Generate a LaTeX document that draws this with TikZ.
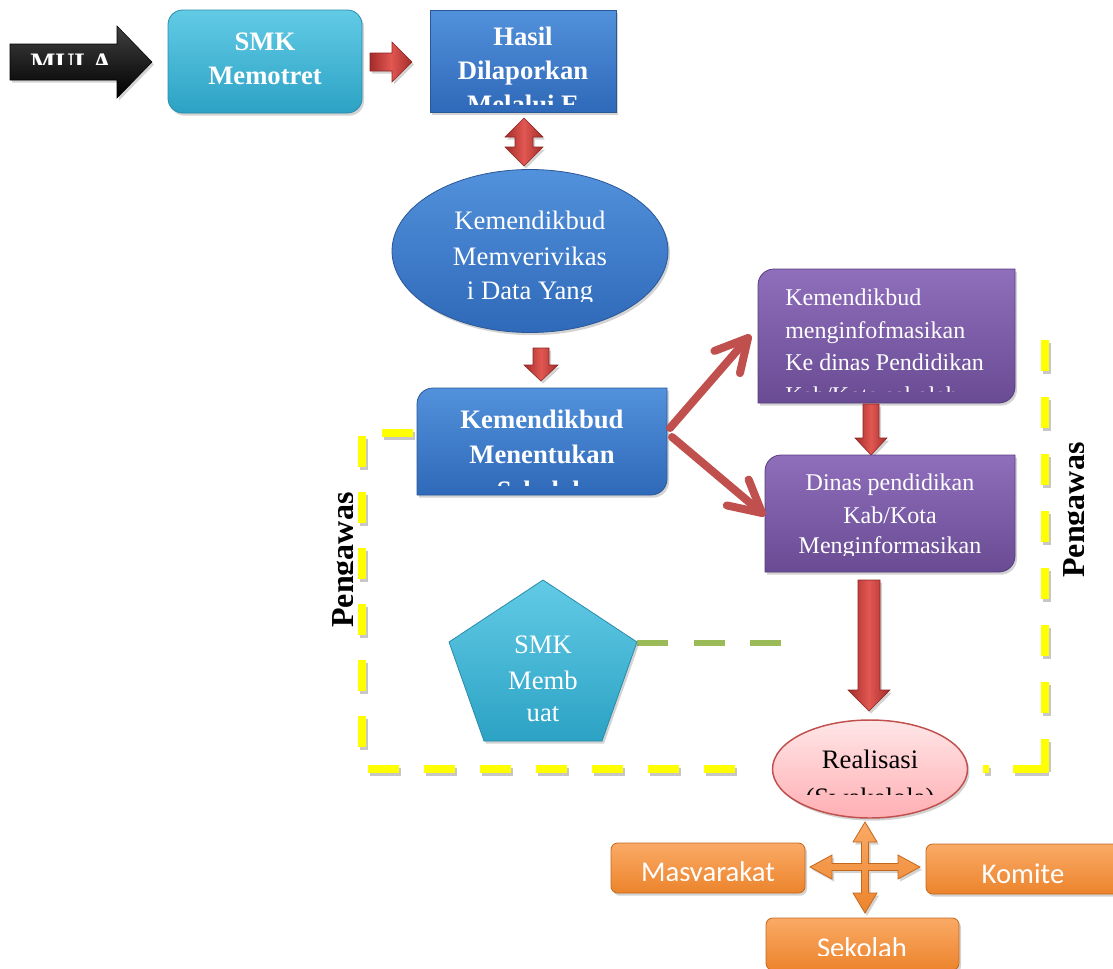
\documentclass[tikz,border=0pt]{standalone}
\usepackage{fontspec}
\setmainfont{Liberation Serif}
\newfontfamily\calib{Carlito}
\usetikzlibrary{calc,shadows,shapes.geometric}
\definecolor{cyanT}{HTML}{62CBE6}
\definecolor{cyanB}{HTML}{2CA2C4}
\definecolor{cyanD}{HTML}{2A8CAA}
\definecolor{blueT}{HTML}{5291DB}
\definecolor{blueB}{HTML}{2F69B9}
\definecolor{blueD}{HTML}{2A5796}
\definecolor{purpT}{HTML}{8F6EBB}
\definecolor{purpB}{HTML}{694B93}
\definecolor{purpD}{HTML}{573D7E}
\definecolor{redL}{HTML}{A32D2A}
\definecolor{redM}{HTML}{E25752}
\definecolor{redD}{HTML}{8B2522}
\definecolor{redC}{HTML}{C0504D}
\definecolor{orT}{HTML}{FAAA66}
\definecolor{orB}{HTML}{EC842C}
\definecolor{orD}{HTML}{C4681E}
\definecolor{pinkT}{HTML}{FFE6E7}
\definecolor{pinkB}{HTML}{FFAFB4}
\definecolor{yelC}{HTML}{FFFF00}
\definecolor{grnC}{HTML}{9BBB59}
\newcommand\dgbox[6]{\path[#1] (#2,{#3+#6}) .. controls (#2,{#3+0.448*#6}) and ({#2+0.448*#6},#3) .. ({#2+#6},#3) -- (#4,#3) -- (#4,{#5-#6}) .. controls (#4,{#5-0.448*#6}) and ({#4-0.448*#6},#5) .. ({#4-#6},#5) -- (#2,#5) -- cycle;}
\tikzset{
  sh/.style={drop shadow={opacity=0.35,shadow xshift=1.5pt,shadow yshift=-2pt}},
  cyanfill/.style={top color=cyanT,bottom color=cyanB,draw=cyanD,line width=0.6pt},
  bluefill/.style={top color=blueT,bottom color=blueB,draw=blueD,line width=0.6pt},
  purpfill/.style={top color=purpT,bottom color=purpB,draw=purpD,line width=0.6pt},
  redfill/.style={left color=redL,right color=redL,middle color=redM,draw=redD,line width=0.4pt},
  orfill/.style={top color=orT,bottom color=orB,draw=orD,line width=0.6pt},
  holder/.style={inner sep=0pt,outer sep=0pt},
  wt/.style={text=white,anchor=base,inner sep=0pt,font=\fontsize{20}{24}\selectfont},
  wtb/.style={wt,font=\bfseries\fontsize{20}{24}\selectfont},
  wts/.style={wt,font=\fontsize{18}{22}\selectfont},
  wtc/.style={wt,font=\calib\fontsize{21.5}{24}\selectfont},
  bkt/.style={wt,text=black},
  peng/.style={text=black,anchor=base,inner sep=0pt,rotate=90,font=\bfseries\fontsize{24}{26}\selectfont},
  ydash/.style={draw=yelC,line width=6pt},
  yshad/.style={draw=black,opacity=0.22,line width=6pt},
  gdash/.style={draw=grnC,line width=4.5pt},
  redln/.style={draw=redC,line width=6pt,line cap=round,line join=round},
}
\begin{document}
\begin{tikzpicture}[x=0.75pt,y=-0.75pt]
\useasboundingbox (0,0) rectangle (1113,968);
\begin{scope}
\clip (0,0) rectangle (1113,968);

% ---- yellow dashed border (Pengawas) ----
\foreach \y in {436,492,548,604,660,716} {\draw[yshad] (364,\y+3) -- (364,\y+34); \draw[ydash] (362,\y) -- (362,\y+31);}
\draw[yshad] (384,436) -- (415,436); \draw[ydash] (382,433) -- (413,433);
\foreach \x in {368,424,480,536,592,648,704} {\draw[yshad] (\x+2,772) -- (\x+33,772); \draw[ydash] (\x,769) -- (\x+31,769);}
\draw[yshad] (985,772) -- (991,772); \draw[ydash] (983,769) -- (989,769);
\draw[yshad] (1015,772) -- (1049,772); \draw[ydash] (1013,769) -- (1048,769);
\foreach \y in {340,397,454,511,568,625,682} {\draw[yshad] (1047,\y+3) -- (1047,\y+34); \draw[ydash] (1045,\y) -- (1045,\y+31);}
\draw[yshad] (1047,742) -- (1047,772); \draw[ydash] (1045,739) -- (1045,772);

% ---- green dashed line ----
\foreach \x in {637,694,750} {\draw[gdash] (\x,643) -- (\x+31,643);}

% ---- MULA arrow ----
\path[top color=black!75,bottom color=black,draw=black,sh] (10,44) -- (117,44) -- (117,26) -- (152,62) -- (117,98) -- (117,80) -- (10,80) -- cycle;
\begin{scope}\clip (10,40) rectangle (120,64);
\node[wtb] (mula) at (71,71) {MULA};
\end{scope}

% ---- SMK Memotret ----
\node[holder,cyanfill,sh,rounded corners=11pt,minimum width=194*0.75pt,minimum height=103*0.75pt] (smk) at (265,61.5) {};
\node[wtb] (smk1) at (265,50) {SMK};
\node[wtb] (smk2) at (265,84) {Memotret};

% ---- Hasil Dilaporkan ----
\node[holder,bluefill,sh,minimum width=186*0.75pt,minimum height=102*0.75pt] (hasil) at (523,61) {};
\node[wtb] (hasil1) at (523,45) {Hasil};
\node[wtb] (hasil2) at (523,79) {Dilaporkan};
\begin{scope}\clip (430,0) rectangle (616,104);
\node[wtb] (hasil3) at (523,113) {Melalui E};
\end{scope}

% arrow smk -> hasil
\path[redfill,sh] (370,53) -- (392,53) -- (392,42) -- (412,62) -- (392,82) -- (392,71) -- (370,71) -- cycle;
% double arrow hasil <-> verif
\path[redfill,sh] (524,118) -- (543,137) -- (533,137) -- (533,147) -- (543,147) -- (524,166) -- (505,147) -- (515,147) -- (515,137) -- (505,137) -- cycle;

% ---- Ellipse verifikasi ----
\node[holder,ellipse,bluefill,sh,minimum width=276*0.75pt,minimum height=163*0.75pt] (verif) at (530,251) {};
\node[wt] (verif1) at (530,229) {Kemendikbud};
\node[wt] (verif2) at (530,265) {Memverivikas};
\begin{scope}\clip (392,170) rectangle (668,301);
\node[wt] (verif3) at (530,299) {i Data Yang};
\end{scope}

% arrow verif -> menentukan
\path[redfill,sh] (533,348) -- (549,348) -- (549,365) -- (558,365) -- (541,381) -- (524,365) -- (533,365) -- cycle;

% ---- Kemendikbud Menentukan ----
\dgbox{bluefill,sh}{417}{388}{667}{495}{16}
\node[holder,minimum width=250*0.75pt,minimum height=107*0.75pt] (menent) at (542,441.5) {};
\node[wtb] (men1) at (542,428) {Kemendikbud};
\node[wtb] (men2) at (542,463) {Menentukan};
\begin{scope}\clip (417,388) rectangle (667,485);
\node[wtb] (men3) at (542,499) {Sekolah};
\end{scope}

% ---- purple box 1 ----
\dgbox{purpfill,sh}{758}{269}{1015}{403}{16}
\node[holder,minimum width=257*0.75pt,minimum height=134*0.75pt] (info) at (886.5,336) {};
\node[wts,anchor=base west] (info1) at (785,305) {Kemendikbud};
\node[wts,anchor=base west] (info2) at (785,338) {menginfofmasikan};
\node[wts,anchor=base west] (info3) at (785,370) {Ke dinas Pendidikan};
\begin{scope}\clip (758,269) rectangle (1015,391);
\node[wts,anchor=base west] (info4) at (785,403) {Kab/Kota sekolah};
\end{scope}

% arrow info -> dinas
\path[redfill,sh] (863,404) -- (879,404) -- (879,438) -- (887,438) -- (871,455) -- (855,438) -- (863,438) -- cycle;

% ---- purple box 2 ----
\dgbox{purpfill,sh}{765}{455}{1015}{572}{16}
\node[holder,minimum width=250*0.75pt,minimum height=117*0.75pt] (dinas) at (890,513.5) {};
\node[wts] (din1) at (890,490) {Dinas pendidikan};
\node[wts] (din2) at (890,523) {Kab/Kota};
\begin{scope}\clip (765,455) rectangle (1015,555);
\node[wts] (din3) at (890,553) {Menginformasikan};
\end{scope}

% red diagonal connectors
\coordinate (s1) at (670,428);
\coordinate (t1) at (748,338);
\coordinate (s2) at (672,437);
\coordinate (t2) at (762,513);
\draw[redln] (s1) -- (t1);
\draw[redln] ($(t1)!27pt!28:(s1)$) -- (t1) -- ($(t1)!27pt!-28:(s1)$);
\draw[redln] (s2) -- (t2);
\draw[redln] ($(t2)!27pt!28:(s2)$) -- (t2) -- ($(t2)!27pt!-28:(s2)$);

% big arrow dinas -> realisasi
\path[redfill,sh] (858,580) -- (880,580) -- (880,690) -- (890,690) -- (869,711) -- (848,690) -- (858,690) -- cycle;

% ---- pentagon ----
\path[cyanfill,sh] (543,580) -- (637,642) -- (602,741) -- (484,741) -- (449,642) -- cycle;
\coordinate (pent) at (543,665);
\node[wt] (pent1) at (543,653) {SMK};
\node[wt] (pent2) at (543,689) {Memb};
\node[wt] (pent3) at (543,721) {uat};

% ---- Pengawas labels ----
\begin{scope}\clip (300,470) rectangle (352,650);
\node[peng] (peng1) at (353,560) {Pengawas};
\end{scope}
\begin{scope}\clip (1055,420) rectangle (1083,600);
\node[peng] (peng2) at (1084,510) {Pengawas};
\end{scope}

% ---- Realisasi ----
\node[holder,ellipse,top color=pinkT,bottom color=pinkB,draw=redC,line width=1.1pt,sh,minimum width=195*0.75pt,minimum height=98*0.75pt] (real) at (870,769) {};
\node[bkt] (real1) at (870,768) {Realisasi};
\begin{scope}\clip (773,720) rectangle (968,794);
\node[bkt] (real2) at (870,806) {(Swakelola)};
\end{scope}

% ---- four-way arrow ----
\path[orfill,sh] (865,822) -- (877,842) -- (868.5,842) -- (868.5,863.5) -- (898,863.5) -- (898,855) -- (920,867) -- (898,879) -- (898,870.5) -- (868.5,870.5) -- (868.5,893) -- (877,893) -- (865,913) -- (853,893) -- (861.5,893) -- (861.5,870.5) -- (832,870.5) -- (832,879) -- (810,867) -- (832,855) -- (832,863.5) -- (861.5,863.5) -- (861.5,842) -- (853,842) -- cycle;

% ---- orange boxes ----
\node[holder,orfill,sh,rounded corners=5pt,minimum width=194*0.75pt,minimum height=50*0.75pt] (masy) at (708,868) {};
\begin{scope}\clip (611,843) rectangle (805,880);
\node[wtc] (masy1) at (708,881.5) {Masyarakat};
\end{scope}
\node[holder,orfill,sh,rounded corners=5pt,minimum width=194*0.75pt,minimum height=50*0.75pt] (komite) at (1023,869) {};
\node[wtc] (komite1) at (1023,883) {Komite};
\node[holder,orfill,sh,rounded corners=5pt,minimum width=193*0.75pt,minimum height=52*0.75pt] (sekolah) at (862.5,944) {};
\begin{scope}\clip (766,918) rectangle (959,955);
\node[wtc] (sekolah1) at (862,957) {Sekolah};
\end{scope}
\end{scope}
\end{tikzpicture}
\end{document}
